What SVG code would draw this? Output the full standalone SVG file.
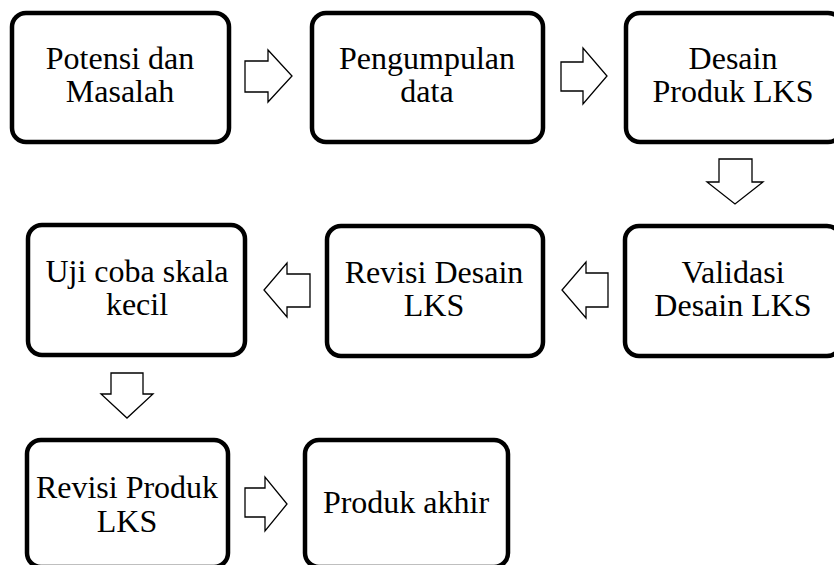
<svg xmlns="http://www.w3.org/2000/svg" width="834" height="565" viewBox="0 0 834 565">
<style>
.box{fill:#fff;stroke:#000;stroke-width:4.5}
.arr{fill:#fff;stroke:#000;stroke-width:1.3;stroke-linejoin:miter}
text{font-family:"Liberation Serif","Times New Roman",serif;font-size:32px;fill:#000;text-anchor:middle}
</style>
<rect width="834" height="565" fill="#fff"/>
<g id="n1"><rect class="box" x="12" y="13" width="217" height="129" rx="14"/><text x="120" y="69">Potensi dan</text><text x="120" y="102">Masalah</text></g>
<g id="n2"><rect class="box" x="312" y="13" width="231" height="129" rx="14"/><text x="427" y="69">Pengumpulan</text><text x="427" y="102">data</text></g>
<g id="n3"><rect class="box" x="626" y="13" width="216" height="129" rx="14"/><text x="733" y="69">Desain</text><text x="733" y="102">Produk LKS</text></g>
<g id="n4"><rect class="box" x="625" y="226" width="216" height="130" rx="14"/><text x="733" y="283">Validasi</text><text x="733" y="316">Desain LKS</text></g>
<g id="n5"><rect class="box" x="327" y="226" width="216" height="130" rx="14"/><text x="434" y="283">Revisi Desain</text><text x="434" y="316">LKS</text></g>
<g id="n6"><rect class="box" x="28" y="225" width="217" height="130" rx="14"/><text x="137" y="282">Uji coba skala</text><text x="137" y="315">kecil</text></g>
<g id="n7"><rect class="box" x="27" y="440" width="201" height="127" rx="14"/><text x="127" y="498">Revisi Produk</text><text x="127" y="532">LKS</text></g>
<g id="n8"><rect class="box" x="305" y="440" width="203" height="127" rx="14"/><text x="406" y="513">Produk akhir</text></g>
<g id="connectors">
<path class="arr" d="M245,61 H268 V50 L292,76 L268,102 V92 H245 Z"/>
<path class="arr" d="M561,62 H583 V48 L607,76 L583,104 V91 H561 Z"/>
<path class="arr" d="M719,159 H752 V182 H763 L735,204 L707,182 H719 Z"/>
<path class="arr" d="M608,273 H586 V262 L562,290 L586,318 V307 H608 Z"/>
<path class="arr" d="M310,274 H287 V263 L264,290 L287,317 V307 H310 Z"/>
<path class="arr" d="M111,373 H143 V394 H153 L127,418 L101,394 H111 Z"/>
<path class="arr" d="M245,488 H265 V477 L287,504 L265,531 V517 H245 Z"/>
</g>
</svg>
